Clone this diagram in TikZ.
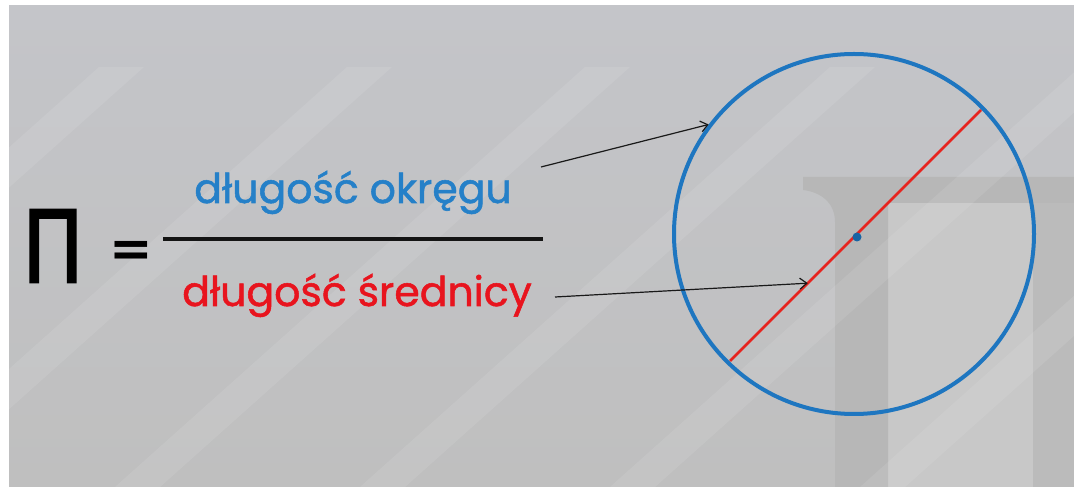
\documentclass[tikz,border=0pt]{standalone}
\usepackage{fontspec}
\setmainfont{Poppins}
\newfontfamily\lblfont{Poppins}[FakeBold=1.3]
\newfontfamily\symfont{DejaVu Sans}
\newfontfamily\pifont{DejaVu Sans}[FakeBold=2]
\usetikzlibrary{arrows.meta,calc}
\definecolor{bgtop}{HTML}{C4C5C9}
\definecolor{bgbot}{HTML}{BFBFBF}
\definecolor{colbar}{HTML}{B7B7B7}
\definecolor{colpanel}{HTML}{C8C8C8}
\definecolor{colright}{HTML}{BBBBBB}
\definecolor{cblue}{HTML}{1E76C0}
\definecolor{tblue}{HTML}{2580C8}
\definecolor{tred}{HTML}{E8141E}
\definecolor{lred}{HTML}{E6241F}
\tikzset{
  arr/.style={draw=black!90, line width=1.2pt, -{Straight Barb[length=7pt,width=11pt]}},
  lbl/.style={anchor=base, inner sep=0pt, font=\lblfont\fontsize{41}{46}\selectfont},
  stripe/.style={fill=white, opacity=0.09}
}
\begin{document}
\begin{tikzpicture}[x=1pt,y=1pt]
\useasboundingbox (0,0) rectangle (1074,487);
\fill[white] (0,0) rectangle (1074,487);
\fill[top color=bgtop, bottom color=bgbot] (9,0) rectangle (1074,481);
% background column (faint Pi shape)
\fill[colpanel] (888,0) rectangle (1033,284);
\fill[colright] (1033,0) rectangle (1074,284);
\fill[colbar] (803,310) -- (1074,310) -- (1074,284) -- (888,284) -- (888,0) -- (835,0) -- (835,265)
   .. controls (835,285) and (820,295) .. (803,297) -- cycle;
% diagonal light stripes
\begin{scope}
\clip (9,0) rectangle (1074,481);
\foreach \c in {174,422,660,905,1155,1405,1655} {
  \fill[stripe] (\c-545,0) -- (\c-500,0) -- (\c-500+470,420) -- (\c-545+470,420) -- cycle;
}
\end{scope}
% formula
\node[inner sep=0pt, font=\pifont\fontsize{100}{100}\selectfont] (pi) at (53,241) {\scalebox{0.82}[1]{Π}};
\node[inner sep=0pt, font=\symfont\bfseries\fontsize{52}{52}\selectfont] (eq) at (131,233) {=};
\coordinate (fl) at (163,248);
\coordinate (fr) at (543,248);
\draw[line width=4.5pt, black!92] (fl) -- (fr);
\node[lbl, text=tblue] (circ) at (353,284) {długość okręgu};
\node[lbl, text=tred] (diam) at (357,181) {długość średnicy};
% circle
\node[circle, draw=cblue, line width=4pt, minimum size=360pt, inner sep=0pt] (C) at (854,253) {};
\coordinate (D1) at (981,377);
\coordinate (D2) at (730,126);
\draw[lred, line width=2.6pt] (D2) -- (D1);
\node[circle, fill=cblue!85!black, inner sep=0pt, minimum size=9pt] (O) at (857,250) {};
% arrows
\coordinate (A1) at (541,320);
\draw[arr] (A1) -- (C.143);
\coordinate (A2) at (555,190);
\coordinate (T2) at ($(D2)!0.31!(D1)$);
\draw[arr] (A2) -- (T2);
\end{tikzpicture}
\end{document}
